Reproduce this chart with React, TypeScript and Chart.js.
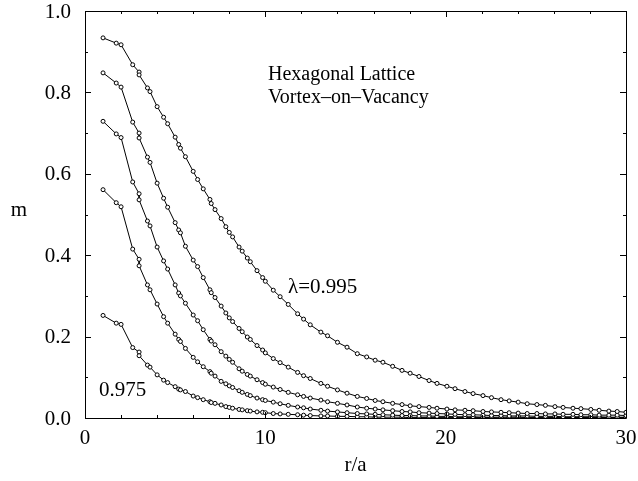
import React, { useEffect, useRef } from "react";
import { Chart, registerables } from "chart.js";

Chart.register(...registerables);

// r/a positions of lattice sites (shared by all curves)
const R = [
  1, 1.732, 2, 2.646, 3, 3,
  3.464, 3.606, 4, 4.359, 4.583,
  5, 5.196, 5.292, 5.568, 6,
  6.245, 6.557, 6.928, 7, 7.211,
  7.55, 7.81, 8, 8.185, 8.544,
  8.718, 9, 9.165, 9.539, 9.849,
  10, 10.44, 10.82, 11.27, 11.79,
  12.12, 12.49, 13.08, 13.45, 14,
  14.53, 15.1, 15.62, 16.09, 16.52,
  17.06, 17.58, 18.03, 18.52, 19.08,
  19.52, 20.07, 20.52, 21.07, 21.52,
  22.07, 22.54, 23.07, 23.52, 24.02,
  24.52, 25.06, 25.53, 26.06, 26.51,
  27.06, 27.5, 28.05, 28.51, 29.05,
  29.51, 30,
];

const M_0995 = [
  0.934, 0.921, 0.917, 0.868, 0.850, 0.843,
  0.811, 0.802, 0.765, 0.739, 0.723,
  0.690, 0.672, 0.663, 0.642, 0.606,
  0.586, 0.563, 0.537, 0.527, 0.512,
  0.490, 0.470, 0.456, 0.445, 0.420,
  0.410, 0.393, 0.384, 0.362, 0.345,
  0.336, 0.314, 0.298, 0.279, 0.256,
  0.243, 0.229, 0.211, 0.202, 0.186,
  0.174, 0.158, 0.150, 0.142, 0.137,
  0.127, 0.117, 0.110, 0.102, 0.092,
  0.085, 0.078, 0.072, 0.065, 0.060,
  0.055, 0.050, 0.045, 0.042, 0.039,
  0.035, 0.033, 0.031, 0.028, 0.026,
  0.024, 0.023, 0.021, 0.019, 0.017,
  0.016, 0.014,
];

const M_0990 = [
  0.848, 0.823, 0.813, 0.727, 0.700, 0.688,
  0.641, 0.628, 0.577, 0.540, 0.518,
  0.480, 0.462, 0.455, 0.422, 0.388,
  0.372, 0.345, 0.315, 0.308, 0.296,
  0.275, 0.258, 0.246, 0.237, 0.220,
  0.212, 0.199, 0.193, 0.178, 0.167,
  0.160, 0.146, 0.136, 0.125, 0.112,
  0.104, 0.097, 0.085, 0.078, 0.069,
  0.061, 0.053, 0.048, 0.043, 0.040,
  0.036, 0.033, 0.030, 0.028, 0.026,
  0.024, 0.022, 0.020, 0.019, 0.018,
  0.016, 0.015, 0.014, 0.013, 0.012,
  0.011, 0.011, 0.010, 0.010, 0.009,
  0.009, 0.008, 0.008, 0.007, 0.007,
  0.007, 0.006,
];

const M_0985 = [
  0.729, 0.698, 0.689, 0.580, 0.551, 0.536,
  0.484, 0.472, 0.420, 0.386, 0.366,
  0.327, 0.307, 0.300, 0.282, 0.253,
  0.239, 0.217, 0.193, 0.189, 0.180,
  0.163, 0.152, 0.144, 0.137, 0.121,
  0.115, 0.107, 0.103, 0.094, 0.087,
  0.083, 0.076, 0.070, 0.063, 0.057,
  0.053, 0.049, 0.044, 0.040, 0.036,
  0.032, 0.027, 0.024, 0.022, 0.020,
  0.018, 0.016, 0.015, 0.013, 0.012,
  0.011, 0.010, 0.009, 0.008, 0.008,
  0.007, 0.006, 0.006, 0.005, 0.005,
  0.005, 0.004, 0.004, 0.004, 0.003,
  0.003, 0.003, 0.003, 0.003, 0.002,
  0.002, 0.002,
];

const M_0980 = [
  0.561, 0.529, 0.519, 0.415, 0.390, 0.374,
  0.327, 0.315, 0.280, 0.249, 0.233,
  0.206, 0.193, 0.188, 0.171, 0.149,
  0.138, 0.126, 0.114, 0.110, 0.103,
  0.090, 0.084, 0.079, 0.075, 0.067,
  0.063, 0.058, 0.055, 0.049, 0.045,
  0.043, 0.039, 0.035, 0.031, 0.027,
  0.025, 0.022, 0.019, 0.017, 0.015,
  0.013, 0.011, 0.010, 0.009, 0.008,
  0.007, 0.006, 0.006, 0.005, 0.005,
  0.004, 0.004, 0.003, 0.003, 0.003,
  0.002, 0.002, 0.002, 0.002, 0.002,
  0.001, 0.001, 0.001, 0.001, 0.001,
  0.001, 0.001, 0.001, 0.001, 0.001,
  0.001, 0.001,
];

const M_0975 = [
  0.252, 0.233, 0.230, 0.173, 0.162, 0.153,
  0.130, 0.125, 0.106, 0.093, 0.087,
  0.077, 0.071, 0.069, 0.065, 0.054,
  0.050, 0.045, 0.040, 0.038, 0.036,
  0.032, 0.028, 0.026, 0.024, 0.021,
  0.020, 0.018, 0.017, 0.015, 0.014,
  0.013, 0.011, 0.010, 0.009, 0.008,
  0.007, 0.006, 0.005, 0.005, 0.004,
  0.004, 0.003, 0.003, 0.002, 0.002,
  0.002, 0.002, 0.001, 0.001, 0.001,
  0.001, 0.001, 0.001, 0.001, 0.001,
  0.001, 0.001, 0.000, 0.000, 0.000,
  0.000, 0.000, 0.000, 0.000, 0.000,
  0.000, 0.000, 0.000, 0.000, 0.000,
  0.000, 0.000,
];

const SERIES_LABELS = ["λ=0.995", "0.990", "0.985", "0.980", "0.975"];
const SERIES = [M_0995, M_0990, M_0985, M_0980, M_0975];

const X_MAJOR = [0, 10, 20, 30];
const X_MINOR = [2, 4, 6, 8, 12, 14, 16, 18, 22, 24, 26, 28];
const X_LABELS = ["0", "10", "20", "30"];
const Y_MAJOR = [0, 0.2, 0.4, 0.6, 0.8, 1.0];
const Y_MINOR = [0.1, 0.3, 0.5, 0.7, 0.9];
const Y_LABELS = ["0.0", "0.2", "0.4", "0.6", "0.8", "1.0"];

const X_TITLE = "r/a";
const Y_TITLE = "m";
const NOTE_1 = "Hexagonal Lattice";
const NOTE_2 = "Vortex\u2013on\u2013Vacancy";
const CURVE_LABEL_TOP = "λ=0.995";
const CURVE_LABEL_BOTTOM = "0.975";

const FONT = "'Liberation Serif', 'Times New Roman', serif";

const framePlugin = {
  id: "frame",
  afterDraw(chart: any) {
    const { ctx, chartArea } = chart;
    const xs = chart.scales.x;
    const ys = chart.scales.y;
    const { left, right, top, bottom } = chartArea;
    ctx.save();
    ctx.strokeStyle = "#000";
    ctx.lineWidth = 1;
    ctx.beginPath();
    ctx.rect(Math.round(left) + 0.5, Math.round(top) + 0.5, Math.round(right - left), Math.round(bottom - top));
    ctx.stroke();

    const tickX = (v: number, len: number) => {
      const px = Math.round(xs.getPixelForValue(v)) + 0.5;
      ctx.moveTo(px, bottom);
      ctx.lineTo(px, bottom - len);
      ctx.moveTo(px, top);
      ctx.lineTo(px, top + len);
    };
    const tickY = (v: number, len: number) => {
      const py = Math.round(ys.getPixelForValue(v)) + 0.5;
      ctx.moveTo(left, py);
      ctx.lineTo(left + len, py);
      ctx.moveTo(right, py);
      ctx.lineTo(right - len, py);
    };
    ctx.beginPath();
    X_MAJOR.forEach((v) => tickX(v, 6));
    X_MINOR.forEach((v) => tickX(v, 3));
    Y_MAJOR.forEach((v) => tickY(v, 6));
    Y_MINOR.forEach((v) => tickY(v, 3));
    ctx.stroke();

    ctx.fillStyle = "#000";
    ctx.font = `21px ${FONT}`;
    ctx.textAlign = "right";
    ctx.textBaseline = "middle";
    Y_MAJOR.forEach((v, i) => {
      ctx.fillText(Y_LABELS[i], left - 14, ys.getPixelForValue(v) + 1);
    });
    ctx.textAlign = "center";
    ctx.textBaseline = "alphabetic";
    X_MAJOR.forEach((v, i) => {
      ctx.fillText(X_LABELS[i], xs.getPixelForValue(v), bottom + 26);
    });
    ctx.fillText(X_TITLE, (left + right) / 2, bottom + 53);
    ctx.textBaseline = "middle";
    ctx.fillText(Y_TITLE, 19, (top + bottom) / 2 - 4);

    ctx.textAlign = "left";
    ctx.textBaseline = "alphabetic";
    ctx.font = `20px ${FONT}`;
    ctx.fillText(NOTE_1, 268, 80);
    ctx.fillText(NOTE_2, 268, 103);
    ctx.font = `21px ${FONT}`;
    ctx.fillText(CURVE_LABEL_TOP, 288, 293);
    ctx.fillText(CURVE_LABEL_BOTTOM, 99, 396);
    ctx.restore();
  },
};

export default function App() {
  const ref = useRef<HTMLCanvasElement | null>(null);
  useEffect(() => {
    if (!ref.current) return;
    const datasets = SERIES.map((vals, k) => ({
      label: SERIES_LABELS[k],
      data: R.map((r, i) => ({ x: r, y: vals[i] })),
      borderColor: "#000",
      borderWidth: 1,
      pointRadius: 2,
      pointBorderWidth: 1,
      pointBorderColor: "#000",
      pointBackgroundColor: "#fff",
      fill: false,
      tension: 0,
    }));
    const chart = new Chart(ref.current, {
      type: "line",
      data: { datasets },
      options: {
        responsive: false,
        animation: false,
        devicePixelRatio: 1,
        layout: { padding: { top: 11, right: 12, left: 0, bottom: 0 } },
        plugins: { legend: { display: false }, tooltip: { enabled: false }, title: { display: false } },
        scales: {
          x: {
            type: "linear",
            min: 0,
            max: 30,
            grid: { display: false, drawTicks: false },
            border: { display: false },
            ticks: { display: false },
            afterFit: (s: any) => {
              s.height = 63;
              s.paddingLeft = 0;
              s.paddingRight = 0;
            },
          },
          y: {
            type: "linear",
            min: 0,
            max: 1,
            grid: { display: false, drawTicks: false },
            border: { display: false },
            ticks: { display: false },
            afterFit: (s: any) => {
              s.width = 85;
              s.paddingTop = 0;
              s.paddingBottom = 0;
            },
          },
        },
      },
      plugins: [framePlugin],
    });
    return () => chart.destroy();
  }, []);
  return (
    <div style={{ position: "absolute", left: 0, top: 0, width: 638, height: 481, background: "#fff" }}>
      <canvas ref={ref} width={638} height={481} style={{ display: "block" }} />
    </div>
  );
}
